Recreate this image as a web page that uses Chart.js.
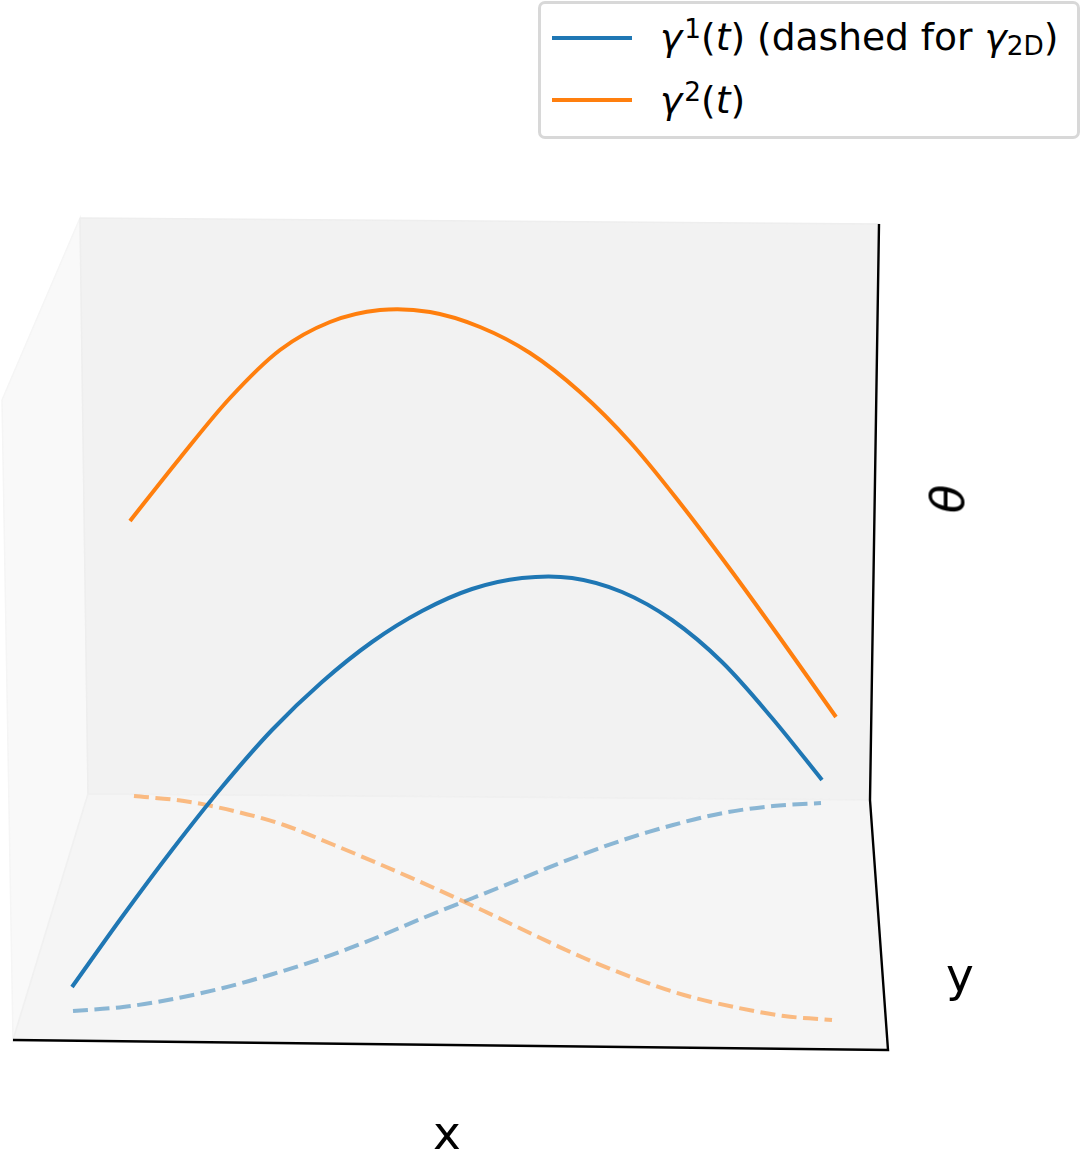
<!DOCTYPE html>
<html>
<head>
<meta charset="utf-8">
<script src="https://cdn.jsdelivr.net/npm/chart.js@4"></script>
<style>
html,body{margin:0;padding:0;background:#fff;width:1080px;height:1150px;overflow:hidden}
#wrap{position:relative;width:1080px;height:1150px;font-family:"DejaVu Sans";color:#000}
canvas{position:absolute;left:0;top:0}
.t{position:absolute;white-space:nowrap;line-height:1}
.legend{position:absolute;left:538px;top:1px;width:536px;height:132px;border:3px solid #d8d8d8;border-radius:7px;background:#fff}
.h{position:absolute;left:552px;width:80px;height:4px}
i{font-style:oblique}
sup,sub{font-size:.7em;line-height:0;position:relative;vertical-align:baseline}
sup{top:-.46em;margin-left:2px}
sub{top:.2em}
</style>
</head>
<body>
<div id="wrap">
<canvas id="c" width="1080" height="1150"></canvas>
<div class="legend"></div>
<div class="h" style="top:36px;background:#1f77b4"></div>
<div class="h" style="top:98px;background:#ff7f0e"></div>
<div class="t" style="left:660px;top:19px;font-size:37.6px"><i>γ</i><sup>1</sup>(<i>t</i>) (dashed for <i>γ</i><sub>2D</sub>)</div>
<div class="t" style="left:660px;top:82px;font-size:37.6px"><i>γ</i><sup>2</sup>(<i>t</i>)</div>
<div class="t" style="left:433px;top:1109px;font-size:47px">x</div>
<div class="t" style="left:946px;top:951px;font-size:47px">y</div>
<div class="t" style="left:947px;top:499px;font-size:47px;transform:translate(-50%,-50%) rotate(-90deg)"><i>θ</i></div>
</div>
<script>
const gamma1X = [72,122,172,222,272,322,372,422,472,522,572,622,672,722,772,822];
const gamma1Y = [987,917,850,787,730,682,642,611,589,578,578,592,620,662,718,780];
const gamma2X = [130,180,230,280,330,380,430,480,530,580,630,680,730,780,836];
const gamma2Y = [521,458,398,350,322,310,312,327,353,392,442,503,569,638,717];
const gamma1FlatX = [73,123,173,223,273,323,373,423,473,523,573,623,673,723,773,821];
const gamma1FlatY = [1011,1007,999,988,974,958,939,918,898,878,858,840,825,813,806,803];
const gamma2FlatX = [134,184,234,284,334,384,434,484,534,584,634,684,734,784,832];
const gamma2FlatY = [796,801,811,825,845,866,888,911,935,958,978,995,1007,1016,1020];
const leftPaneX = [2,80,88,13];
const leftPaneY = [400,218,794,1040];
const backPaneX = [80,879,870,88];
const backPaneY = [218,224,800,794];
const floorPaneX = [88,870,888,13];
const floorPaneY = [794,800,1050,1040];
const axisX = [879,870,888,13];
const axisY = [224,800,1050,1040];

const pts = (xs, ys) => xs.map((x, i) => ({x, y: ys[i]}));
const pane = (xs, ys, fill, edge, order) => ({
  data: pts(xs, ys).concat({x: xs[0], y: ys[0]}),
  backgroundColor: fill, borderColor: edge, borderWidth: 1.5,
  fill: 'shape', pointRadius: 0, tension: 0, order
});
const curve = (xs, ys, color, dash, order) => ({
  data: pts(xs, ys), borderColor: color, borderWidth: 4, borderDash: dash,
  fill: false, pointRadius: 0, tension: 0.33, borderCapStyle: 'butt', order
});

new Chart(document.getElementById('c'), {
  type: 'line',
  data: {
    datasets: [
      pane(leftPaneX, leftPaneY, '#f9f9f9', '#f5f5f5', 10),
      pane(backPaneX, backPaneY, '#f2f2f2', '#eeeeee', 9),
      pane(floorPaneX, floorPaneY, '#f5f5f5', '#f0f0f0', 8),
      {data: pts(axisX, axisY), borderColor: '#000', borderWidth: 2.4, fill: false, pointRadius: 0, tension: 0, order: 7},
      curve(gamma1FlatX, gamma1FlatY, 'rgba(31,119,180,0.5)', [15, 6.5], 4),
      curve(gamma2FlatX, gamma2FlatY, 'rgba(255,127,14,0.5)', [15, 6.5], 3),
      curve(gamma1X, gamma1Y, '#1f77b4', [], 2),
      curve(gamma2X, gamma2Y, '#ff7f0e', [], 1)
    ]
  },
  options: {
    responsive: false,
    animation: false,
    layout: {padding: 0},
    plugins: {legend: {display: false}, tooltip: {enabled: false}},
    scales: {
      x: {type: 'linear', min: 0, max: 1080, display: false},
      y: {type: 'linear', min: 0, max: 1150, reverse: true, display: false}
    }
  }
});
</script>
</body>
</html>
